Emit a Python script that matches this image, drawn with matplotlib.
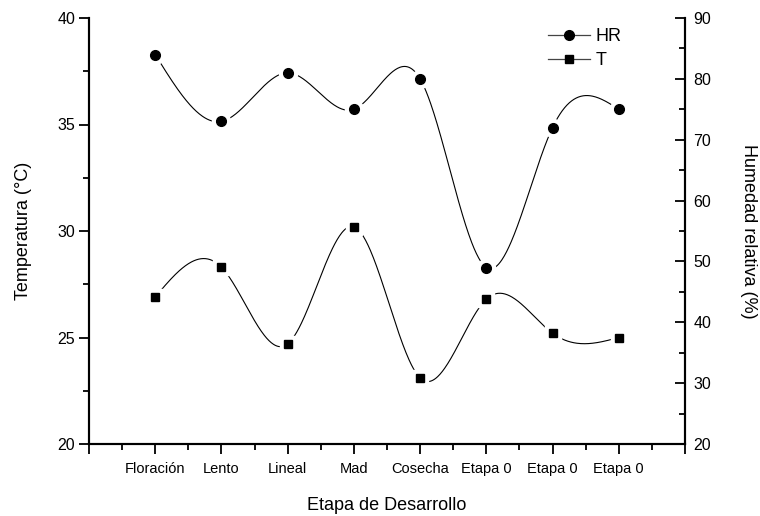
import numpy as np
import matplotlib
matplotlib.use("Agg")
import matplotlib.pyplot as plt
from matplotlib.lines import Line2D

plt.rcParams['font.family'] = ['Liberation Sans', 'DejaVu Sans']

# Development stages and measured values
stages = ["Floración", "Lento", "Lineal", "Mad", "Cosecha", "Etapa 0", "Etapa 0", "Etapa 0"]
temperature = [26.9, 28.3, 24.7, 30.2, 23.1, 26.8, 25.2, 25.0]   # T (°C), left axis
humidity = [84, 73, 81, 75, 80, 49, 72, 75]                       # HR (%), right axis


def natural_cubic_spline(x, y, xs):
    """Evaluate a natural cubic spline through (x, y) at xs."""
    x = np.asarray(x, float)
    y = np.asarray(y, float)
    n = len(x)
    h = np.diff(x)
    A = np.zeros((n, n))
    b = np.zeros(n)
    A[0, 0] = A[-1, -1] = 1.0
    for i in range(1, n - 1):
        A[i, i - 1] = h[i - 1]
        A[i, i] = 2 * (h[i - 1] + h[i])
        A[i, i + 1] = h[i]
        b[i] = 6 * ((y[i + 1] - y[i]) / h[i] - (y[i] - y[i - 1]) / h[i - 1])
    M = np.linalg.solve(A, b)
    idx = np.clip(np.searchsorted(x, xs) - 1, 0, n - 2)
    x0, x1 = x[idx], x[idx + 1]
    hh = x1 - x0
    t0 = x1 - xs
    t1 = xs - x0
    return (M[idx] * t0 ** 3 / (6 * hh) + M[idx + 1] * t1 ** 3 / (6 * hh)
            + (y[idx] / hh - M[idx] * hh / 6) * t0
            + (y[idx + 1] / hh - M[idx + 1] * hh / 6) * t1)


xpos = np.arange(1, len(stages) + 1)
xs = np.linspace(xpos[0], xpos[-1], 600)

fig = plt.figure(figsize=(7.6, 5.16), dpi=100)
ax = fig.add_axes([89 / 760, 72 / 516, 596 / 760, 426 / 516])
ax2 = ax.twinx()

# Temperature curve (left axis)
ax.plot(xs, natural_cubic_spline(xpos, temperature, xs), color='black', lw=0.8, zorder=2)
ax.plot(xpos, temperature, ls='none', marker='s', ms=12, mfc='white', mec='white', zorder=3)
ax.plot(xpos, temperature, ls='none', marker='s', ms=6.2, mfc='black', mec='black', zorder=4)

# Relative humidity curve (right axis)
ax2.plot(xs, natural_cubic_spline(xpos, humidity, xs), color='black', lw=0.8, zorder=2)
ax2.plot(xpos, humidity, ls='none', marker='o', ms=13, mfc='white', mec='white', zorder=3)
ax2.plot(xpos, humidity, ls='none', marker='o', ms=7, mfc='black', mec='black', zorder=4)

ax.set_xlim(0, len(stages) + 1)
ax.set_ylim(20, 40)
ax2.set_ylim(20, 90)

ax.set_xticks(np.arange(0, len(stages) + 2))
ax.set_xticklabels([""] + stages + [""], fontsize=10.5)
ax.set_xticks(np.arange(0.5, len(stages) + 1, 1.0), minor=True)
ax.set_yticks([20, 25, 30, 35, 40])
ax.set_yticks([22.5, 27.5, 32.5, 37.5], minor=True)
ax2.set_yticks([20, 30, 40, 50, 60, 70, 80, 90])
ax2.set_yticks([25, 35, 45, 55, 65, 75, 85], minor=True)

for a in (ax, ax2):
    for s in a.spines.values():
        s.set_linewidth(1.5)
ax.spines['top'].set_visible(False)
ax2.spines['top'].set_visible(False)

ax.tick_params(axis='x', which='major', direction='out', length=7, width=1.3, pad=6)
ax.tick_params(axis='x', which='minor', direction='out', length=4, width=1.3)
ax.tick_params(axis='y', which='major', direction='out', length=7, width=1.3, labelsize=11.5, pad=3)
ax.tick_params(axis='y', which='minor', direction='out', length=4, width=1.3)
ax2.tick_params(axis='y', which='major', direction='in', length=7, width=1.3, labelsize=11.5, pad=6)
ax2.tick_params(axis='y', which='minor', direction='in', length=4, width=1.3)

ax.set_xlabel("Etapa de Desarrollo", fontsize=13, labelpad=15)
ax.set_ylabel("Temperatura (°C)", fontsize=13, labelpad=18)
ax2.set_ylabel("Humedad relativa (%)", fontsize=13, rotation=270, labelpad=33)

handles = [
    Line2D([], [], color='#444444', lw=0.9, marker='o', ms=7, mfc='black', mec='black'),
    Line2D([], [], color='#444444', lw=0.9, marker='s', ms=6.2, mfc='black', mec='black'),
]
fig.legend(handles, ["HR", "T"], loc='upper left', bbox_to_anchor=(548 / 760, 1 - 28 / 516),
           frameon=False, fontsize=13, handlelength=2.3, handletextpad=0.35,
           labelspacing=0.4, borderpad=0, borderaxespad=0)

fig.savefig("out.png", dpi=100)
